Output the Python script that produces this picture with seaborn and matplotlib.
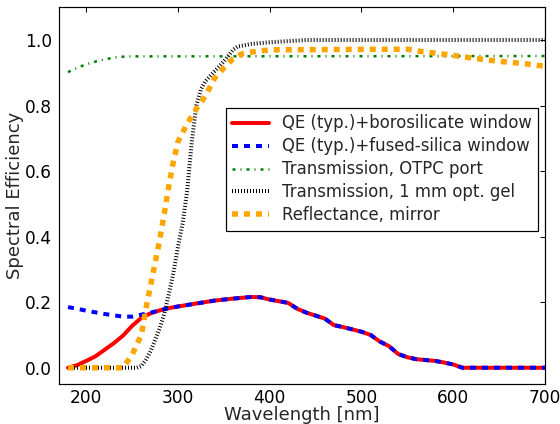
import matplotlib
matplotlib.use("Agg")
import matplotlib.pyplot as plt
import seaborn as sns

# QE with borosilicate window
wl_boro = [180, 190, 200, 210, 220, 230, 240, 250, 260, 270, 280, 290, 300, 320,
           340, 360, 380, 390, 400, 420, 430, 440, 460, 470, 480, 500, 510, 520,
           530, 540, 550, 560, 580, 590, 600, 610, 700]
qe_boro = [0.0, 0.008, 0.021, 0.035, 0.055, 0.075, 0.098, 0.128, 0.152, 0.166,
           0.175, 0.182, 0.187, 0.196, 0.205, 0.211, 0.216, 0.215, 0.208, 0.198,
           0.18, 0.168, 0.15, 0.13, 0.124, 0.11, 0.1, 0.08, 0.066, 0.042, 0.032,
           0.026, 0.021, 0.016, 0.01, 0.0, 0.0]

# QE with fused-silica window
wl_fused = wl_boro
qe_fused = [0.185, 0.18, 0.174, 0.169, 0.164, 0.16, 0.156, 0.156, 0.162, 0.168,
            0.175, 0.182, 0.187, 0.196, 0.205, 0.211, 0.216, 0.215, 0.208, 0.198,
            0.18, 0.168, 0.15, 0.13, 0.124, 0.11, 0.1, 0.08, 0.066, 0.042, 0.032,
            0.026, 0.021, 0.016, 0.01, 0.0, 0.0]

# OTPC port transmission
wl_port = [180, 190, 200, 210, 220, 230, 240, 250, 700]
tr_port = [0.902, 0.915, 0.926, 0.934, 0.941, 0.946, 0.949, 0.95, 0.951]

# Optical gel transmission (1 mm)
wl_gel = [180, 255, 260, 265, 270, 275, 280, 285, 290, 295, 300, 305, 310, 315,
          320, 325, 330, 340, 350, 360, 365, 380, 400, 440, 700]
tr_gel = [0.0, 0.0, 0.005, 0.025, 0.05, 0.085, 0.12, 0.165, 0.225, 0.29, 0.37,
          0.44, 0.54, 0.69, 0.8, 0.85, 0.875, 0.905, 0.935, 0.97, 0.98, 0.988,
          0.993, 1.0, 1.0]

# Mirror reflectance
wl_mirror = [180, 240, 250, 260, 265, 270, 275, 280, 285, 290, 295, 300, 310,
             320, 330, 340, 350, 360, 370, 380, 400, 550, 565, 580, 595, 610,
             620, 635, 650, 665, 680, 700]
refl_mirror = [0.0, 0.0, 0.04, 0.1, 0.18, 0.25, 0.32, 0.39, 0.47, 0.555, 0.63,
               0.69, 0.745, 0.79, 0.83, 0.884, 0.915, 0.943, 0.958, 0.963, 0.97,
               0.972, 0.965, 0.96, 0.955, 0.949, 0.945, 0.94, 0.935, 0.931,
               0.927, 0.92]

labels = ["QE (typ.)+borosilicate window",
          "QE (typ.)+fused-silica window",
          "Transmission, OTPC port",
          "Transmission, 1 mm opt. gel",
          "Reflectance, mirror"]

sns.set_style("white")
plt.rcParams["font.family"] = ["DejaVu Sans"]
plt.rcParams["lines.scale_dashes"] = False

fig = plt.figure(figsize=(560 / 72, 424 / 72), dpi=72)
ax = fig.add_axes([0.105, 0.094, 0.868, 0.889])

sns.lineplot(x=wl_boro, y=qe_boro, ax=ax, color="red", lw=4,
             linestyle="-", label=labels[0])
sns.lineplot(x=wl_fused, y=qe_fused, ax=ax, color="blue", lw=4,
             linestyle=(0, (6, 6)), label=labels[1])
sns.lineplot(x=wl_port, y=tr_port, ax=ax, color="green", lw=2.5,
             linestyle=(0, (3, 5, 1, 5)), label=labels[2])
sns.lineplot(x=wl_gel, y=tr_gel, ax=ax, color="black", lw=4,
             linestyle=(0, (1, 2)), label=labels[3])
sns.lineplot(x=wl_mirror, y=refl_mirror, ax=ax, color="orange", lw=5.5,
             linestyle=(0, (6, 6)), label=labels[4])

ax.set_xlim(170, 700)
ax.set_ylim(-0.05, 1.1)
ax.set_xticks([200, 300, 400, 500, 600, 700])
ax.set_yticks([0.0, 0.2, 0.4, 0.6, 0.8, 1.0])
ax.set_yticklabels(["0.0", "0.2", "0.4", "0.6", "0.8", "1.0"])
ax.set_xlabel("Wavelength [nm]", fontsize=18, labelpad=-1)
ax.set_ylabel("Spectral Efficiency", fontsize=18, labelpad=1)
ax.tick_params(direction="in", length=5, width=1, labelsize=17,
               top=True, right=True, colors="black")
ax.tick_params(axis="x", pad=5)
ax.tick_params(axis="y", pad=7)
for s in ax.spines.values():
    s.set_color("black")
    s.set_linewidth(1.2)

leg = ax.legend(loc="center right", bbox_to_anchor=(1.0, 0.57), fontsize=16.5,
                frameon=True, fancybox=False, framealpha=1, edgecolor="black",
                handlelength=2.2, labelspacing=0.3, borderpad=0.4,
                handletextpad=0.8, borderaxespad=0.4)
leg.get_frame().set_linewidth(1.2)

fig.savefig("out.png", dpi=72)
